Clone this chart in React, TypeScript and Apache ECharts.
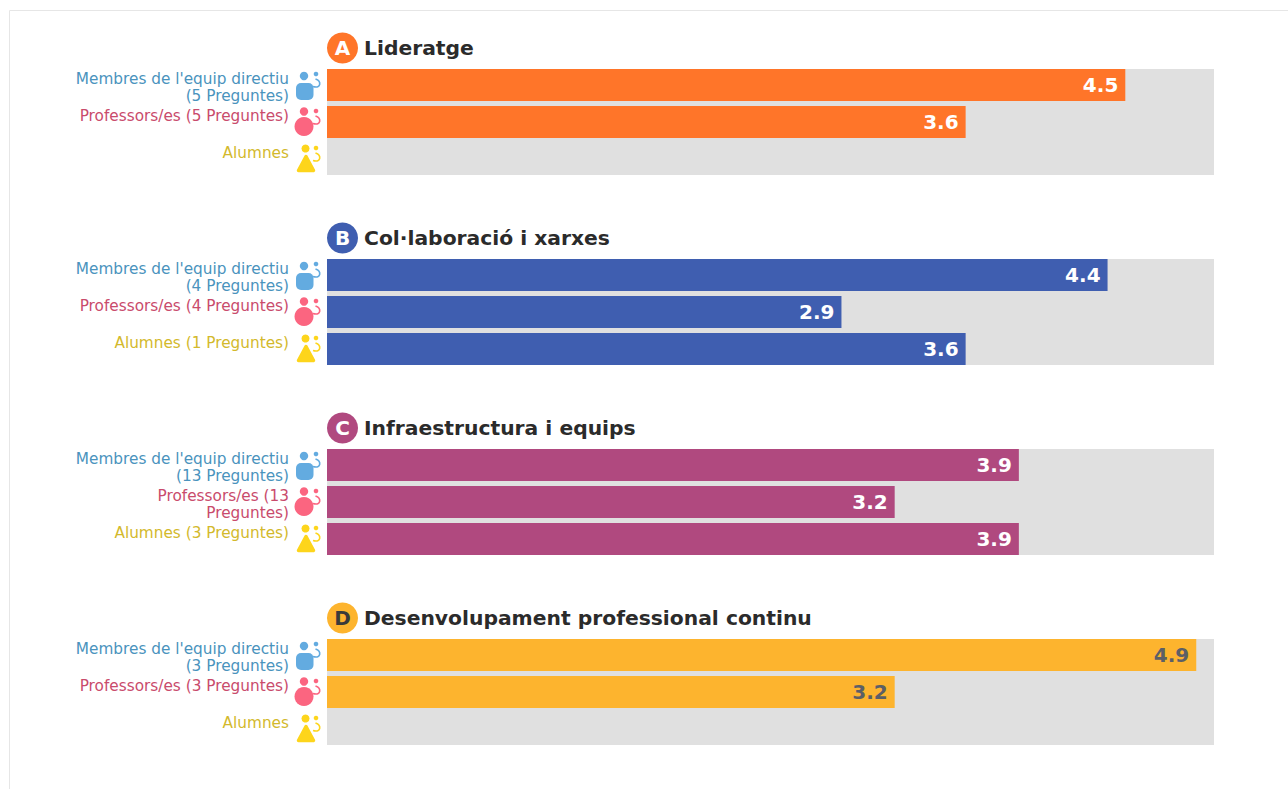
import React, { useEffect, useRef } from "react";
import * as echarts from "echarts";

const sectionLetters = ["A", "B", "C", "D"];
const sectionTitles = ["Lideratge", "Col·laboració i xarxes", "Infraestructura i equips", "Desenvolupament professional continu"];
const sectionColors = ["#FF7529", "#3F5EB0", "#B0497F", "#FDB42E"];
const valueLabelColors = ["#ffffff", "#ffffff", "#ffffff", "#5c5f66"];

const labelsA = ["Membres de l'equip directiu\n(5 Preguntes)", "Professors/es (5 Preguntes)", "Alumnes"];
const labelsB = ["Membres de l'equip directiu\n(4 Preguntes)", "Professors/es (4 Preguntes)", "Alumnes (1 Preguntes)"];
const labelsC = ["Membres de l'equip directiu\n(13 Preguntes)", "Professors/es (13\nPreguntes)", "Alumnes (3 Preguntes)"];
const labelsD = ["Membres de l'equip directiu\n(3 Preguntes)", "Professors/es (3 Preguntes)", "Alumnes"];
const sectionLabels = [labelsA, labelsB, labelsC, labelsD];

const valuesA = [4.5, 3.6, null];
const valuesB = [4.4, 2.9, 3.6];
const valuesC = [3.9, 3.2, 3.9];
const valuesD = [4.9, 3.2, null];
const sectionValues = [valuesA, valuesB, valuesC, valuesD];

const roleLabelColors = ["#4A93BD", "#C94B6C", "#D3B92C"];
const roleIconColors = ["#63ABE0", "#FB6580", "#FDD51C"];
const scaleMax = 5;

const LEFT = 327;
const WIDTH = 887;
const STEP = 190;
const FIRST_TOP = 69;
const TRACK_H = 106;
const BAND = 37;
const FONT = "'DejaVu Sans', sans-serif";

function hook(x: number, y: number, color: string) {
  return {
    type: "bezierCurve",
    shape: { x1: x, y1: y, cpx1: x + 6, cpy1: y + 2, cpx2: x + 6, cpy2: y + 10, x2: x - 2.5, y2: y + 7.5 },
    style: { stroke: color, lineWidth: 1.6, fill: "none" },
  };
}

function icon(role: number, cy: number) {
  const color = roleIconColors[role];
  const top = cy - 14;
  const kids: any[] = [];
  if (role === 0) {
    kids.push({ type: "circle", shape: { cx: 304, cy: top + 5, r: 4.2 }, style: { fill: color } });
    kids.push({ type: "rect", shape: { x: 296, y: top + 12, width: 17.5, height: 17, r: 5 }, style: { fill: color } });
  } else if (role === 1) {
    kids.push({ type: "circle", shape: { cx: 304, cy: top + 3.5, r: 4.2 }, style: { fill: color } });
    kids.push({ type: "circle", shape: { cx: 304, cy: top + 18.5, r: 9.5 }, style: { fill: color } });
  } else {
    kids.push({ type: "circle", shape: { cx: 305.5, cy: top + 3.5, r: 4 }, style: { fill: color } });
    kids.push({
      type: "polygon",
      shape: { points: [[306, top + 11.5], [313.5, top + 25.5], [298.5, top + 25.5]] },
      style: { fill: color, stroke: color, lineWidth: 3.5, lineJoin: "round" },
    });
  }
  kids.push({ type: "circle", shape: { cx: 316, cy: top + 3, r: 2.3 }, style: { fill: color } });
  kids.push(hook(315.5, top + 8, color));
  return { type: "group", children: kids };
}

export default function App() {
  const ref = useRef<HTMLDivElement>(null);
  useEffect(() => {
    const chart = echarts.init(ref.current!, undefined, { renderer: "svg" });
    const graphic: any[] = [
      { type: "line", shape: { x1: 9.5, y1: 10.5, x2: 1288, y2: 10.5 }, style: { stroke: "#e6e6e6", lineWidth: 1 } },
      { type: "line", shape: { x1: 9.5, y1: 10.5, x2: 9.5, y2: 789 }, style: { stroke: "#e6e6e6", lineWidth: 1 } },
    ];
    const grid: any[] = [];
    const xAxis: any[] = [];
    const yAxis: any[] = [];
    const series: any[] = [];
    sectionTitles.forEach((title, i) => {
      const trackTop = FIRST_TOP + i * STEP;
      graphic.push({
        type: "rect",
        shape: { x: LEFT, y: trackTop, width: WIDTH, height: TRACK_H },
        style: { fill: "#E0E0E0" },
      });
      graphic.push({ type: "circle", shape: { cx: 342.5, cy: trackTop - 21, r: 15.5 }, style: { fill: sectionColors[i] } });
      graphic.push({
        type: "text",
        x: 342.5,
        y: trackTop - 21,
        style: {
          text: sectionLetters[i],
          fill: i === 3 ? "#3a3a3a" : "#ffffff",
          font: `bold 20px ${FONT}`,
          align: "center",
          verticalAlign: "middle",
        },
      });
      graphic.push({
        type: "text",
        x: 364,
        y: trackTop - 21,
        style: { text: title, fill: "#2B2B2B", font: `bold 20.3px ${FONT}`, align: "left", verticalAlign: "middle" },
      });
      [0, 1, 2].forEach((r) => graphic.push(icon(r, trackTop + 16 + r * BAND)));

      grid.push({ left: LEFT, width: WIDTH, top: trackTop - 2.5, height: BAND * 3, containLabel: false });
      xAxis.push({ gridIndex: i, type: "value", min: 0, max: scaleMax, show: false });
      yAxis.push({
        gridIndex: i,
        type: "category",
        inverse: true,
        data: sectionLabels[i],
        axisLine: { show: false },
        axisTick: { show: false },
        splitLine: { show: false },
        axisLabel: {
          interval: 0,
          margin: 38,
          color: (_v: any, idx: number) => roleLabelColors[idx],
          fontFamily: FONT,
          fontSize: 15.3,
          lineHeight: 17,
          align: "right",
          verticalAlign: "top",
          padding: [-14.7, 0, 0, 0],
        },
      });
      series.push({
        type: "bar",
        xAxisIndex: i,
        yAxisIndex: i,
        barWidth: 32,
        data: sectionValues[i],
        itemStyle: { color: sectionColors[i] },
        label: {
          show: true,
          position: "insideRight",
          distance: 7,
          color: valueLabelColors[i],
          fontFamily: FONT,
          fontWeight: "bold",
          fontSize: 20,
          formatter: (p: any) => (p.value == null ? "" : Number(p.value).toFixed(1)),
        },
      });
    });
    chart.setOption({ animation: false, backgroundColor: "#ffffff", graphic, grid, xAxis, yAxis, series });
    return () => chart.dispose();
  }, []);
  return <div ref={ref} style={{ position: "fixed", left: 0, top: 0, width: 1288, height: 789 }} />;
}
